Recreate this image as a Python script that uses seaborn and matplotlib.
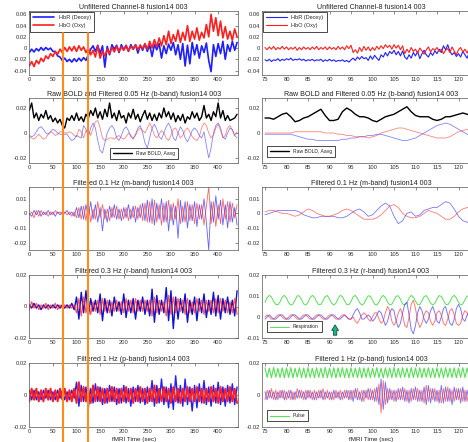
import numpy as np
import matplotlib
matplotlib.use('Agg')
import matplotlib.pyplot as plt
import seaborn as sns
from matplotlib.ticker import FuncFormatter
from matplotlib.lines import Line2D

# ---- data: full run (0..440 s, every 5 s) ----
t_full = np.arange(0, 445, 5)

hbr_raw_full = [
    -0.008, -0.002, -0.007, -0.001, -0.005, 0.001, -0.004, 0.001, -0.003, 0.000,
    -0.006, -0.006, -0.014, -0.016, -0.022, -0.018, -0.024, -0.020, -0.025, -0.019,
    -0.024, -0.018, -0.023, -0.017, -0.022, -0.012, -0.002, 0.004, -0.006, 0.005,
    -0.010, 0.004, -0.034, 0.003, -0.012, 0.006, -0.002, 0.005, -0.008, 0.006,
    -0.003, 0.005, -0.006, 0.006, -0.002, 0.006, -0.009, 0.005, -0.004, 0.007,
    -0.006, 0.005, -0.015, 0.006, -0.003, 0.008, -0.018, 0.004, -0.010, 0.007,
    -0.004, 0.010, -0.012, 0.006, -0.020, 0.008, -0.032, 0.005, -0.028, 0.010,
    -0.012, 0.006, -0.018, 0.004, -0.008, 0.009, -0.022, -0.042, 0.006, -0.015,
    0.008, -0.010, 0.012, -0.020, 0.006, -0.006, 0.012, -0.004, 0.010]
hbo_raw_full = [
    -0.032, -0.024, -0.033, -0.022, -0.028, -0.018, -0.024, -0.014, -0.019, -0.010,
    -0.015, -0.006, -0.011, -0.002, -0.008, 0.001, -0.006, 0.002, -0.005, 0.003,
    -0.006, 0.004, -0.004, 0.002, -0.008, 0.000, -0.012, -0.004, -0.016, 0.004,
    -0.018, -0.006, -0.014, -0.002, -0.010, 0.001, -0.007, 0.003, -0.006, 0.002,
    -0.004, 0.004, -0.005, 0.003, -0.002, 0.006, -0.003, 0.005, -0.001, 0.008,
    -0.002, 0.012, 0.000, 0.015, 0.002, 0.018, 0.004, 0.022, 0.006, 0.030,
    0.008, 0.024, 0.012, 0.032, 0.010, 0.028, 0.014, 0.040, 0.012, 0.030,
    0.016, 0.036, 0.014, 0.028, 0.018, 0.042, 0.020, 0.060, 0.030, 0.054,
    0.022, 0.048, 0.018, 0.038, 0.016, 0.030, 0.014, 0.034, 0.020]

bold_full = [
    0.018, 0.024, 0.012, 0.016, 0.010, 0.015, 0.012, 0.018, 0.011, 0.014,
    0.009, 0.012, 0.008, 0.011, 0.006, 0.004, 0.012, 0.010, 0.014, 0.010,
    0.016, 0.010, 0.013, 0.009, 0.015, 0.012, 0.018, 0.014, 0.020, 0.012,
    0.017, 0.011, 0.019, 0.013, 0.024, 0.012, 0.016, 0.010, 0.018, 0.012,
    0.014, 0.008, 0.016, 0.012, 0.019, 0.011, 0.015, 0.009, 0.014, 0.018,
    0.011, 0.016, 0.010, 0.015, 0.010, 0.016, 0.012, 0.020, 0.013, 0.017,
    0.011, 0.016, 0.009, 0.014, 0.010, 0.015, 0.008, 0.013, 0.011, 0.017,
    0.012, 0.016, 0.010, 0.013, 0.022, 0.012, 0.015, 0.010, 0.017, 0.013,
    0.024, 0.012, 0.018, 0.010, 0.014, 0.010, 0.011, 0.012, 0.015]
hbr_b_full = [
    -0.002, -0.003, -0.002, 0.001, 0.004, 0.005, 0.003, 0.000, -0.001, 0.001,
    0.003, 0.002, 0.000, -0.001, -0.001, -0.001, -0.001, -0.004, -0.006, -0.005,
    -0.002, -0.003, -0.004, 0.006, 0.003, -0.003, 0.004, 0.008, 0.004, -0.006,
    -0.014, -0.016, -0.008, 0.000, 0.004, 0.006, 0.003, -0.004, -0.006, -0.002,
    0.003, 0.005, 0.002, -0.003, -0.005, -0.001, 0.004, 0.006, 0.000, -0.008,
    -0.012, -0.004, 0.004, 0.007, 0.003, -0.003, -0.005, 0.000, 0.005, 0.008,
    0.004, -0.004, -0.006, 0.000, 0.005, 0.002, -0.004, -0.007, -0.003, 0.002,
    0.004, 0.002, -0.002, -0.004, 0.001, -0.010, -0.020, -0.012, 0.000, 0.006,
    0.008, 0.004, -0.003, -0.005, 0.000, 0.004, 0.003, -0.002, -0.004]
hbo_b_full = [
    -0.003, -0.004, -0.005, -0.003, -0.001, -0.003, -0.005, -0.004, -0.001, 0.001,
    0.000, -0.002, -0.001, 0.001, 0.001, 0.000, 0.000, 0.001, 0.000, -0.002,
    -0.003, 0.003, 0.001, -0.004, 0.002, 0.002, -0.002, 0.004, 0.009, 0.010,
    0.004, -0.004, -0.006, -0.005, -0.004, -0.004, -0.005, -0.003, -0.002, -0.004,
    -0.005, -0.003, 0.000, -0.002, -0.004, -0.002, 0.002, 0.004, 0.002, 0.000,
    0.004, 0.008, 0.004, -0.002, -0.004, -0.001, 0.002, 0.000, -0.004, -0.006,
    -0.002, 0.003, 0.004, 0.000, -0.004, -0.002, 0.002, 0.004, 0.001, -0.003,
    -0.005, -0.006, -0.003, 0.004, 0.008, 0.006, 0.000, -0.004, -0.002, 0.004,
    0.007, 0.002, -0.004, -0.002, 0.004, 0.006, 0.002, -0.002, 0.001]

hbr_m_full = [
    0.000, -0.002, 0.002, -0.001, 0.002, -0.002, 0.001, -0.001, 0.002, -0.001,
    0.001, -0.002, 0.001, -0.001, 0.001, 0.000, 0.002, -0.001, 0.001, -0.002,
    0.004, -0.003, 0.005, -0.004, 0.006, -0.003, 0.008, -0.004, 0.006, -0.006,
    0.004, -0.012, 0.003, -0.006, 0.005, -0.003, 0.006, -0.004, 0.003, -0.005,
    0.004, -0.003, 0.006, -0.004, 0.005, -0.006, 0.004, -0.003, 0.007, -0.005,
    0.009, -0.006, 0.010, -0.008, 0.007, -0.004, 0.010, -0.006, 0.008, -0.012,
    0.006, -0.008, 0.005, -0.017, 0.009, -0.006, 0.008, -0.010, 0.006, -0.005,
    0.008, -0.009, 0.006, -0.004, 0.010, -0.006, -0.025, 0.008, -0.006, 0.012,
    -0.004, 0.009, -0.008, 0.006, -0.010, 0.008, -0.006, 0.004, -0.008]
hbo_m_full = [
    -0.001, 0.001, -0.003, 0.002, -0.002, 0.002, -0.001, 0.001, -0.002, 0.001,
    -0.001, 0.002, 0.000, 0.001, -0.001, 0.001, -0.001, 0.001, -0.002, 0.001,
    -0.003, 0.004, -0.004, 0.005, -0.005, 0.007, -0.006, 0.003, -0.004, 0.008,
    -0.003, 0.006, -0.004, 0.003, -0.005, 0.004, -0.003, 0.005, -0.004, 0.003,
    -0.004, 0.004, -0.005, 0.003, -0.003, 0.005, -0.004, 0.006, -0.005, 0.007,
    -0.006, 0.008, -0.007, 0.009, -0.006, 0.006, -0.008, 0.007, -0.006, 0.009,
    -0.005, 0.007, -0.004, 0.010, -0.007, 0.005, -0.006, 0.008, -0.005, 0.006,
    -0.007, 0.007, -0.004, 0.006, -0.008, 0.005, 0.018, -0.007, 0.008, -0.009,
    0.006, -0.007, 0.010, -0.004, 0.008, -0.006, 0.007, -0.003, 0.006]

hbr_r_full = [
    0.001, -0.001, 0.002, -0.001, 0.001, -0.002, 0.001, -0.001, 0.001, -0.001,
    0.001, -0.001, 0.001, -0.001, 0.001, -0.001, 0.001, -0.001, 0.002, -0.002,
    0.006, -0.008, 0.009, -0.004, 0.010, -0.006, 0.005, -0.003, 0.004, -0.004,
    0.008, -0.009, 0.005, -0.004, 0.004, -0.006, 0.006, -0.003, 0.003, -0.005,
    0.008, -0.007, 0.004, -0.004, 0.005, -0.008, 0.004, -0.003, 0.006, -0.005,
    0.004, -0.006, 0.011, -0.010, 0.007, -0.005, 0.004, -0.004, 0.012, -0.009,
    0.010, -0.014, 0.006, -0.008, 0.005, -0.004, 0.008, -0.010, 0.004, -0.005,
    0.006, -0.009, 0.005, -0.004, 0.008, -0.007, 0.004, -0.005, 0.009, -0.006,
    0.007, -0.008, 0.005, -0.004, 0.006, -0.005, 0.004, -0.006, 0.010]
hbo_r_full = [
    -0.002, 0.003, -0.001, 0.002, -0.002, 0.001, -0.001, 0.002, -0.002, 0.001,
    -0.001, 0.002, -0.002, 0.001, -0.001, 0.001, -0.001, 0.001, -0.001, 0.001,
    -0.004, 0.005, -0.006, 0.006, -0.004, 0.004, -0.005, 0.003, -0.003, 0.004,
    -0.005, 0.005, -0.003, 0.004, -0.004, 0.003, -0.003, 0.004, -0.003, 0.003,
    -0.004, 0.005, -0.003, 0.004, -0.004, 0.005, -0.003, 0.004, -0.003, 0.004,
    -0.003, 0.004, -0.006, 0.006, -0.004, 0.004, -0.003, 0.003, -0.006, 0.007,
    -0.005, 0.006, -0.004, 0.005, -0.003, 0.004, -0.005, 0.005, -0.004, 0.003,
    -0.004, 0.005, -0.003, 0.004, -0.005, 0.004, -0.003, 0.004, -0.004, 0.005,
    -0.004, 0.005, -0.003, 0.004, -0.004, 0.003, -0.004, 0.005, -0.005]

hbr_p_full = [
    0.003, -0.003, 0.003, -0.003, 0.002, -0.003, 0.003, -0.002, 0.003, -0.003,
    0.002, -0.003, 0.003, -0.002, 0.003, -0.003, 0.002, -0.003, 0.003, -0.002,
    0.008, -0.007, 0.006, -0.004, 0.005, -0.008, 0.004, -0.005, 0.007, -0.004,
    0.005, -0.006, 0.004, -0.005, 0.006, -0.004, 0.005, -0.006, 0.004, -0.005,
    0.006, -0.005, 0.004, -0.007, 0.005, -0.004, 0.006, -0.005, 0.004, -0.006,
    0.005, -0.004, 0.009, -0.007, 0.006, -0.005, 0.010, -0.006, 0.005, -0.008,
    0.007, -0.009, 0.012, -0.005, 0.006, -0.007, 0.010, -0.006, 0.005, -0.010,
    0.006, -0.008, 0.007, -0.005, 0.009, -0.006, 0.005, -0.007, 0.006, -0.005,
    0.008, -0.006, 0.005, -0.007, 0.006, -0.005, 0.007, -0.006, 0.005]
hbo_p_full = [
    -0.004, 0.004, -0.003, 0.004, -0.004, 0.003, -0.004, 0.004, -0.003, 0.004,
    -0.004, 0.003, -0.004, 0.004, -0.003, 0.004, -0.004, 0.003, -0.004, 0.004,
    -0.005, 0.008, -0.004, 0.005, -0.004, 0.004, -0.005, 0.006, -0.004, 0.005,
    -0.004, 0.004, -0.005, 0.004, -0.004, 0.005, -0.004, 0.004, -0.005, 0.004,
    -0.004, 0.005, -0.004, 0.004, -0.005, 0.004, -0.004, 0.005, -0.004, 0.004,
    -0.005, 0.004, -0.004, 0.006, -0.005, 0.004, -0.004, 0.005, -0.004, 0.004,
    -0.005, 0.005, -0.004, 0.004, -0.005, 0.004, -0.004, 0.005, -0.004, 0.004,
    -0.004, 0.005, -0.004, 0.004, -0.005, 0.004, -0.004, 0.005, -0.004, 0.004,
    -0.005, 0.005, -0.004, 0.004, -0.004, 0.005, -0.004, 0.004, -0.005]

# ---- data: zoomed window (75..125 s) ----
t_zoom = np.arange(75, 125.5, 0.5)
t_zoom_1s = np.arange(75, 126, 1)

hbr_raw_zoom = [
    -0.021, -0.023, -0.020, -0.024, -0.021, -0.022, -0.019, -0.023, -0.020, -0.022,
    -0.019, -0.021, -0.018, -0.022, -0.020, -0.021, -0.019, -0.022, -0.020, -0.023,
    -0.021, -0.022, -0.020, -0.023, -0.021, -0.022, -0.020, -0.024, -0.021, -0.023,
    -0.020, -0.023, -0.021, -0.024, -0.022, -0.023, -0.021, -0.024, -0.022, -0.025,
    -0.021, -0.018, -0.022, -0.016, -0.020, -0.015, -0.019, -0.017, -0.022, -0.014,
    -0.020, -0.013, -0.018, -0.022, -0.012, -0.016, -0.008, -0.014, -0.006, -0.010,
    -0.004, -0.012, -0.006, -0.014, -0.005, -0.016, -0.020, -0.012, -0.018, -0.008,
    -0.014, -0.006, -0.019, -0.010, -0.004, -0.012, -0.016, -0.008, -0.013, -0.005,
    -0.010, -0.002, -0.008, 0.004, -0.003, 0.006, -0.006, -0.012, -0.008, -0.015,
    -0.010, -0.016, -0.006, -0.012, -0.018, -0.008, -0.014, -0.010, -0.015, -0.009,
    -0.012]
hbo_raw_zoom = [
    0.001, -0.003, 0.002, -0.002, 0.003, -0.003, 0.001, -0.002, 0.003, -0.002,
    0.002, -0.003, 0.001, -0.002, 0.002, -0.004, 0.001, -0.003, 0.002, -0.002,
    0.001, -0.003, 0.002, -0.002, 0.003, -0.003, 0.001, -0.002, 0.002, -0.003,
    0.002, -0.002, 0.001, -0.003, 0.003, -0.002, 0.002, -0.003, 0.004, -0.001,
    0.005, -0.008, -0.003, -0.009, 0.001, -0.006, 0.003, -0.004, 0.002, -0.005,
    0.001, -0.004, 0.003, -0.002, 0.004, -0.001, 0.006, 0.001, 0.005, -0.002,
    0.006, 0.000, 0.005, -0.003, 0.004, -0.010, -0.002, -0.008, 0.001, -0.006,
    -0.002, -0.009, 0.000, -0.005, -0.011, -0.003, 0.002, -0.007, -0.001, -0.004,
    0.001, -0.006, -0.002, -0.010, -0.004, -0.001, -0.008, 0.002, -0.005, -0.012,
    -0.003, 0.001, -0.007, -0.002, -0.009, 0.000, -0.005, -0.010, -0.002, -0.006,
    -0.003]

bold_zoom = [
    0.012, 0.012, 0.011, 0.013, 0.015, 0.016, 0.013, 0.009, 0.010, 0.012,
    0.013, 0.015, 0.017, 0.019, 0.014, 0.010, 0.010, 0.011, 0.017, 0.020,
    0.018, 0.015, 0.013, 0.013, 0.012, 0.010, 0.009, 0.011, 0.013, 0.014,
    0.015, 0.017, 0.019, 0.021, 0.017, 0.014, 0.013, 0.013, 0.013, 0.011,
    0.010, 0.011, 0.013, 0.013, 0.014, 0.015, 0.016, 0.015, 0.014, 0.014,
    0.014]
hbr_b_zoom = [
    -0.001, -0.001, -0.001, -0.001, -0.001, -0.001, -0.001, -0.002, -0.003, -0.004,
    -0.005, -0.005, -0.006, -0.006, -0.006, -0.006, -0.006, -0.006, -0.005, -0.005,
    -0.004, -0.004, -0.003, -0.003, -0.002, -0.002, -0.001, -0.001, -0.002, -0.003,
    -0.004, -0.005, -0.006, -0.006, -0.005, -0.004, -0.002, 0.000, 0.002, 0.004,
    0.006, 0.007, 0.008, 0.007, 0.005, 0.003, 0.001, -0.001, -0.002, -0.003,
    -0.003]
hbo_b_zoom = [
    0.000, 0.000, 0.000, 0.000, 0.000, 0.000, 0.000, 0.001, 0.001, 0.001,
    0.001, 0.001, 0.001, 0.001, 0.000, 0.000, 0.000, -0.001, -0.001, -0.002,
    -0.002, -0.003, -0.003, -0.003, -0.004, -0.003, -0.002, 0.000, 0.001, 0.002,
    0.003, 0.004, 0.004, 0.003, 0.002, 0.001, 0.000, -0.001, -0.002, -0.003,
    -0.004, -0.004, -0.004, -0.003, -0.001, 0.001, 0.002, 0.003, 0.003, 0.003,
    0.002]

hbr_m_zoom = [
    -0.001, 0.000, 0.001, 0.002, 0.002, 0.002, 0.002, 0.002, 0.001, -0.001,
    -0.002, -0.003, -0.003, -0.002, -0.002, -0.002, -0.002, -0.003, -0.003, -0.002,
    0.000, 0.002, 0.003, 0.001, -0.002, -0.001, 0.002, 0.005, 0.007, 0.005,
    -0.002, -0.007, -0.005, 0.000, 0.001, -0.002, -0.001, 0.002, 0.003, 0.004,
    0.004, 0.006, 0.008, 0.007, 0.003, -0.002, -0.005, -0.006, -0.007, -0.008,
    -0.008]
hbo_m_zoom = [
    0.001, 0.002, 0.002, 0.001, 0.000, 0.000, -0.001, -0.002, -0.001, 0.001,
    0.003, 0.002, 0.000, -0.001, -0.002, -0.002, -0.001, 0.000, 0.002, 0.003,
    0.002, 0.000, -0.002, -0.004, -0.004, -0.004, -0.003, -0.001, 0.002, 0.005,
    0.006, 0.004, 0.000, -0.002, -0.003, -0.003, -0.002, 0.000, 0.002, 0.001,
    0.000, -0.002, -0.004, -0.004, -0.002, 0.001, 0.003, 0.004, 0.004, 0.004,
    0.004]

resp_zoom = [
    0.0070, 0.0093, 0.0103, 0.0095, 0.0075, 0.0060, 0.0058, 0.0072, 0.0095, 0.0103,
    0.0090, 0.0068, 0.0057, 0.0062, 0.0082, 0.0101, 0.0100, 0.0082, 0.0062, 0.0057,
    0.0070, 0.0092, 0.0103, 0.0094, 0.0073, 0.0058, 0.0060, 0.0078, 0.0098, 0.0102,
    0.0086, 0.0065, 0.0057, 0.0066, 0.0088, 0.0103, 0.0097, 0.0077, 0.0060, 0.0058,
    0.0074, 0.0096, 0.0103, 0.0089, 0.0068, 0.0057, 0.0063, 0.0084, 0.0101, 0.0099,
    0.0080, 0.0061, 0.0057, 0.0071, 0.0093, 0.0103, 0.0092, 0.0071, 0.0058, 0.0061,
    0.0080, 0.0099, 0.0101, 0.0084, 0.0063, 0.0057, 0.0068, 0.0090, 0.0103, 0.0095,
    0.0075, 0.0059, 0.0059, 0.0076, 0.0097, 0.0102, 0.0087, 0.0066, 0.0057, 0.0065,
    0.0086, 0.0102, 0.0098, 0.0079, 0.0061, 0.0058, 0.0072, 0.0094, 0.0103, 0.0091,
    0.0070, 0.0058, 0.0062, 0.0082, 0.0100, 0.0100, 0.0083, 0.0063, 0.0057, 0.0069,
    0.0091]
hbr_r_zoom = [
    -0.001, 0.000, 0.001, 0.000, -0.001, -0.001, 0.000, 0.001, 0.001, 0.000,
    -0.001, -0.001, 0.000, 0.001, 0.001, 0.000, -0.001, -0.001, 0.000, 0.001,
    0.001, 0.000, -0.001, -0.001, 0.000, 0.001, 0.001, 0.000, -0.001, -0.001,
    0.000, 0.001, 0.001, 0.000, -0.001, -0.001, 0.000, 0.001, 0.000, -0.001,
    -0.001, 0.001, 0.003, 0.004, 0.002, -0.001, -0.001, 0.000, 0.001, 0.000,
    -0.002, -0.001, 0.001, 0.003, 0.002, -0.001, -0.004, -0.002, 0.002, 0.004,
    0.003, -0.002, -0.005, -0.003, 0.002, 0.006, 0.007, 0.001, -0.006, -0.008,
    -0.004, 0.002, 0.005, 0.003, -0.001, -0.003, -0.001, 0.003, 0.005, 0.002,
    -0.002, -0.003, 0.000, 0.004, 0.005, 0.001, -0.003, -0.004, -0.001, 0.004,
    0.006, 0.004, -0.001, -0.002, 0.001, 0.003, 0.002, -0.001, -0.002, 0.000,
    0.002]
hbo_r_zoom = [
    0.000, 0.001, 0.000, -0.001, -0.001, 0.000, 0.001, 0.001, 0.000, -0.001,
    -0.001, 0.000, 0.001, 0.001, 0.000, -0.001, -0.001, 0.000, 0.001, 0.001,
    0.000, -0.001, -0.001, 0.000, 0.001, 0.001, 0.000, -0.001, -0.001, 0.000,
    0.001, 0.001, 0.000, -0.001, -0.001, 0.000, 0.001, 0.001, 0.000, -0.001,
    -0.001, 0.000, -0.002, -0.003, -0.001, 0.001, 0.002, 0.001, -0.001, -0.002,
    0.000, 0.002, 0.002, -0.001, -0.003, -0.002, 0.002, 0.005, 0.003, -0.002,
    -0.004, -0.002, 0.002, 0.004, 0.001, -0.004, -0.005, 0.000, 0.006, 0.008,
    0.004, -0.002, -0.005, -0.003, 0.001, 0.003, 0.002, -0.002, -0.004, -0.002,
    0.002, 0.003, 0.001, -0.003, -0.004, -0.001, 0.003, 0.004, 0.001, -0.003,
    -0.004, -0.003, 0.001, 0.003, 0.002, -0.001, -0.002, 0.000, 0.002, 0.002,
    0.000]

pulse_zoom = [
    0.0170, 0.0110, 0.0168, 0.0108, 0.0172, 0.0111, 0.0166, 0.0109, 0.0170, 0.0107,
    0.0169, 0.0110, 0.0171, 0.0108, 0.0167, 0.0112, 0.0170, 0.0109, 0.0168, 0.0107,
    0.0171, 0.0110, 0.0167, 0.0108, 0.0170, 0.0111, 0.0168, 0.0109, 0.0172, 0.0108,
    0.0168, 0.0110, 0.0170, 0.0107, 0.0169, 0.0111, 0.0171, 0.0109, 0.0167, 0.0108,
    0.0170, 0.0111, 0.0168, 0.0109, 0.0171, 0.0107, 0.0169, 0.0110, 0.0170, 0.0108,
    0.0167, 0.0111, 0.0171, 0.0109, 0.0168, 0.0107, 0.0170, 0.0110, 0.0169, 0.0108,
    0.0172, 0.0110, 0.0167, 0.0109, 0.0170, 0.0111, 0.0168, 0.0107, 0.0171, 0.0109,
    0.0169, 0.0110, 0.0170, 0.0108, 0.0168, 0.0111, 0.0171, 0.0109, 0.0167, 0.0108,
    0.0170, 0.0110, 0.0169, 0.0107, 0.0171, 0.0111, 0.0168, 0.0109, 0.0170, 0.0108,
    0.0168, 0.0110, 0.0171, 0.0109, 0.0169, 0.0107, 0.0170, 0.0111, 0.0167, 0.0109,
    0.0170]
hbr_p_zoom = [
    0.002, -0.003, 0.003, -0.002, 0.002, -0.003, 0.002, -0.002, 0.003, -0.003,
    0.002, -0.002, 0.003, -0.003, 0.002, -0.002, 0.003, -0.002, 0.002, -0.003,
    0.003, -0.002, 0.002, -0.003, 0.002, -0.002, 0.003, -0.003, 0.002, -0.002,
    0.002, -0.003, 0.003, -0.002, 0.002, -0.003, 0.002, -0.002, 0.003, -0.003,
    0.003, -0.004, 0.004, -0.003, 0.002, -0.004, 0.003, -0.002, 0.004, -0.003,
    0.003, -0.004, 0.005, -0.006, 0.010, -0.009, 0.008, -0.005, 0.004, -0.003,
    0.003, -0.004, 0.004, -0.003, 0.005, -0.004, 0.003, -0.005, 0.004, -0.003,
    0.005, -0.004, 0.003, -0.004, 0.005, -0.006, 0.006, -0.005, 0.004, -0.004,
    0.003, -0.005, 0.006, -0.005, 0.005, -0.004, 0.004, -0.006, 0.005, -0.003,
    0.004, -0.005, 0.005, -0.004, 0.003, -0.004, 0.004, -0.003, 0.003, -0.004,
    0.003]
hbo_p_zoom = [
    -0.003, 0.003, -0.002, 0.004, -0.003, 0.003, -0.003, 0.003, -0.002, 0.003,
    -0.003, 0.003, -0.003, 0.002, -0.003, 0.004, -0.002, 0.003, -0.003, 0.003,
    -0.002, 0.003, -0.003, 0.003, -0.003, 0.003, -0.002, 0.004, -0.003, 0.003,
    -0.003, 0.002, -0.003, 0.003, -0.002, 0.003, -0.003, 0.003, -0.002, 0.003,
    -0.003, 0.003, -0.002, 0.004, -0.003, 0.003, -0.004, 0.003, -0.003, 0.004,
    -0.003, 0.004, -0.004, 0.007, -0.011, 0.009, -0.006, 0.004, -0.003, 0.003,
    -0.004, 0.003, -0.003, 0.004, -0.003, 0.004, -0.004, 0.003, -0.004, 0.004,
    -0.003, 0.004, -0.004, 0.003, -0.005, 0.006, -0.004, 0.004, -0.003, 0.004,
    -0.004, 0.003, -0.005, 0.004, -0.004, 0.005, -0.004, 0.003, -0.004, 0.004,
    -0.003, 0.004, -0.004, 0.003, -0.004, 0.003, -0.003, 0.004, -0.003, 0.003,
    -0.003]

titles = ['Unfiltered Channel-8 fusion14 003',
          'Raw BOLD and Filtered 0.05 Hz (b-band) fusion14 003',
          'Filtered 0.1 Hz (m-band) fusion14 003',
          'Filtered 0.3 Hz (r-band) fusion14 003',
          'Filtered 1 Hz (p-band) fusion14 003']
zoom_window = [71, 124]   # orange markers on the full-run panels
arrow_time = 91.3

BLUE = '#1f1fff'
RED = '#ff1f1f'
GREEN = '#55e055'

sns.set_style('white')
plt.rcParams['font.family'] = ['Liberation Sans', 'DejaVu Sans']

W, H = 468, 442
fig = plt.figure(figsize=(W / 100, H / 100), dpi=100, facecolor='white')

rows_px = [(11, 75), (98, 163), (187, 250), (275, 338), (363, 427)]
left_px = (29.3, 238)
right_px = (262, 480)


def make_ax(xs, ys):
    return fig.add_axes([xs[0] / W, 1 - ys[1] / H, (xs[1] - xs[0]) / W, (ys[1] - ys[0]) / H])


fmt = FuncFormatter(lambda v, p: '0' if abs(v) < 1e-9 else '%.2f' % v)


def style(ax, title, xlim, xticks, ylim, yticks):
    ax.set_xlim(*xlim)
    ax.set_ylim(*ylim)
    ax.set_xticks(xticks)
    ax.set_yticks(yticks)
    ax.yaxis.set_major_formatter(fmt)
    ax.tick_params(direction='in', length=2, width=0.4, labelsize=4.2, pad=1.5,
                   top=True, right=True, colors='#333333')
    for s in ax.spines.values():
        s.set_linewidth(0.5)
        s.set_color('#555555')
    ax.set_title(title, fontsize=5.1, pad=1.6, color='#222222')


def trace(ax, t, v, color, lw=0.6, alpha=1.0, label=None):
    sns.lineplot(x=t, y=v, ax=ax, color=color, linewidth=lw, alpha=alpha,
                 label=label, legend=False)


def small_legend(ax, fs=3.6, **kw):
    leg = ax.legend(fontsize=fs, handlelength=3.8, frameon=True, fancybox=False,
                    framealpha=1, edgecolor='black', borderpad=0.6, labelspacing=0.6, **kw)
    leg.get_frame().set_linewidth(0.5)


full_ticks = list(range(0, 401, 50))
zoom_ticks = list(range(75, 121, 5))
full_lim = (0, 442)
zoom_lim = (74.3, 125)

ylims = [(-0.048, 0.066), (-0.024, 0.028), (-0.025, 0.018), (-0.02, 0.02), (-0.02, 0.02)]
yticks = [[-0.04, -0.02, 0, 0.02, 0.04, 0.06], [-0.02, 0, 0.02],
          [-0.02, -0.01, 0, 0.01], [-0.02, 0, 0.02], [-0.02, 0, 0.02]]

axL = [make_ax(left_px, r) for r in rows_px]
axR = [make_ax(right_px, r) for r in rows_px]

# row 1: unfiltered
for ax, t, hbr, hbo, lw in [(axL[0], t_full, hbr_raw_full, hbo_raw_full, 1.2),
                            (axR[0], t_zoom, hbr_raw_zoom, hbo_raw_zoom, 0.8)]:
    trace(ax, t, hbr, BLUE, lw=lw, label='HbR (Deoxy)')
    trace(ax, t, hbo, RED, lw=lw, label='HbO (Oxy)')
    small_legend(ax, fs=4.0, loc='upper left', borderaxespad=0.1)

# row 2: b-band + raw BOLD
for ax, t, hbr, hbo, bold in [(axL[1], t_full, hbr_b_full, hbo_b_full, bold_full),
                              (axR[1], t_zoom_1s, hbr_b_zoom, hbo_b_zoom, bold_zoom)]:
    trace(ax, t, hbr, BLUE, lw=0.6, alpha=0.55)
    trace(ax, t, hbo, RED, lw=0.6, alpha=0.55)
    trace(ax, t, bold, 'black', lw=1.0, label='Raw BOLD, Aavg')
small_legend(axL[1], loc='lower left', bbox_to_anchor=(0.375, 0.02))
small_legend(axR[1], loc='lower left', bbox_to_anchor=(0.01, 0.06))

# row 3: m-band
trace(axL[2], t_full, hbr_m_full, BLUE, lw=0.6, alpha=0.7)
trace(axL[2], t_full, hbo_m_full, RED, lw=0.6, alpha=0.7)
trace(axR[2], t_zoom_1s, hbr_m_zoom, BLUE, lw=0.6, alpha=0.6)
trace(axR[2], t_zoom_1s, hbo_m_zoom, RED, lw=0.6, alpha=0.6)

# row 4: r-band + respiration
trace(axL[3], t_full, hbr_r_full, '#1010d0', lw=1.0)
trace(axL[3], t_full, hbo_r_full, RED, lw=0.9, alpha=0.75)
trace(axR[3], t_zoom, resp_zoom, GREEN, lw=0.7, label='Respiration')
trace(axR[3], t_zoom, hbr_r_zoom, BLUE, lw=0.7, alpha=0.6)
trace(axR[3], t_zoom, hbo_r_zoom, RED, lw=0.7, alpha=0.6)
small_legend(axR[3], loc='lower left', bbox_to_anchor=(0.01, 0.05))

# row 5: p-band + pulse
trace(axL[4], t_full, hbr_p_full, BLUE, lw=1.0)
trace(axL[4], t_full, hbo_p_full, RED, lw=1.4)
trace(axR[4], t_zoom, pulse_zoom, GREEN, lw=0.8, label='Pulse')
trace(axR[4], t_zoom, hbr_p_zoom, BLUE, lw=0.7, alpha=0.6)
trace(axR[4], t_zoom, hbo_p_zoom, RED, lw=0.7, alpha=0.6)
small_legend(axR[4], loc='lower left', bbox_to_anchor=(0.01, 0.05))

for i in range(5):
    style(axL[i], titles[i], full_lim, full_ticks, ylims[i], yticks[i])
rylims = list(ylims)
rylims[3] = (-0.01, 0.02)
ryticks = list(yticks)
ryticks[3] = [-0.01, 0, 0.01, 0.02]
for i in range(5):
    style(axR[i], titles[i], zoom_lim, zoom_ticks, rylims[i], ryticks[i])

for ax in (axL[4], axR[4]):
    ax.set_xlabel('fMRI Time (sec)', fontsize=4.5, labelpad=2, color='#222222')

# respiration cue arrow
axR[3].annotate('', xy=(arrow_time, -0.0024), xytext=(arrow_time, -0.0100),
                arrowprops=dict(arrowstyle='simple,head_width=0.5,head_length=0.4,tail_width=0.25',
                                fc='#19b38a', ec='#0b3b2c', lw=0.5),
                annotation_clip=False)

# orange zoom-window markers across the left column
to_fig = fig.transFigure.inverted()
for tm in zoom_window:
    xf = to_fig.transform(axL[0].transData.transform((tm, 0)))[0]
    fig.add_artist(Line2D([xf, xf], [0, 1 - 33 / H], transform=fig.transFigure,
                          color='#ff8c1a', lw=1.5, zorder=10))

fig.savefig('out.png', dpi=100, facecolor='white')
